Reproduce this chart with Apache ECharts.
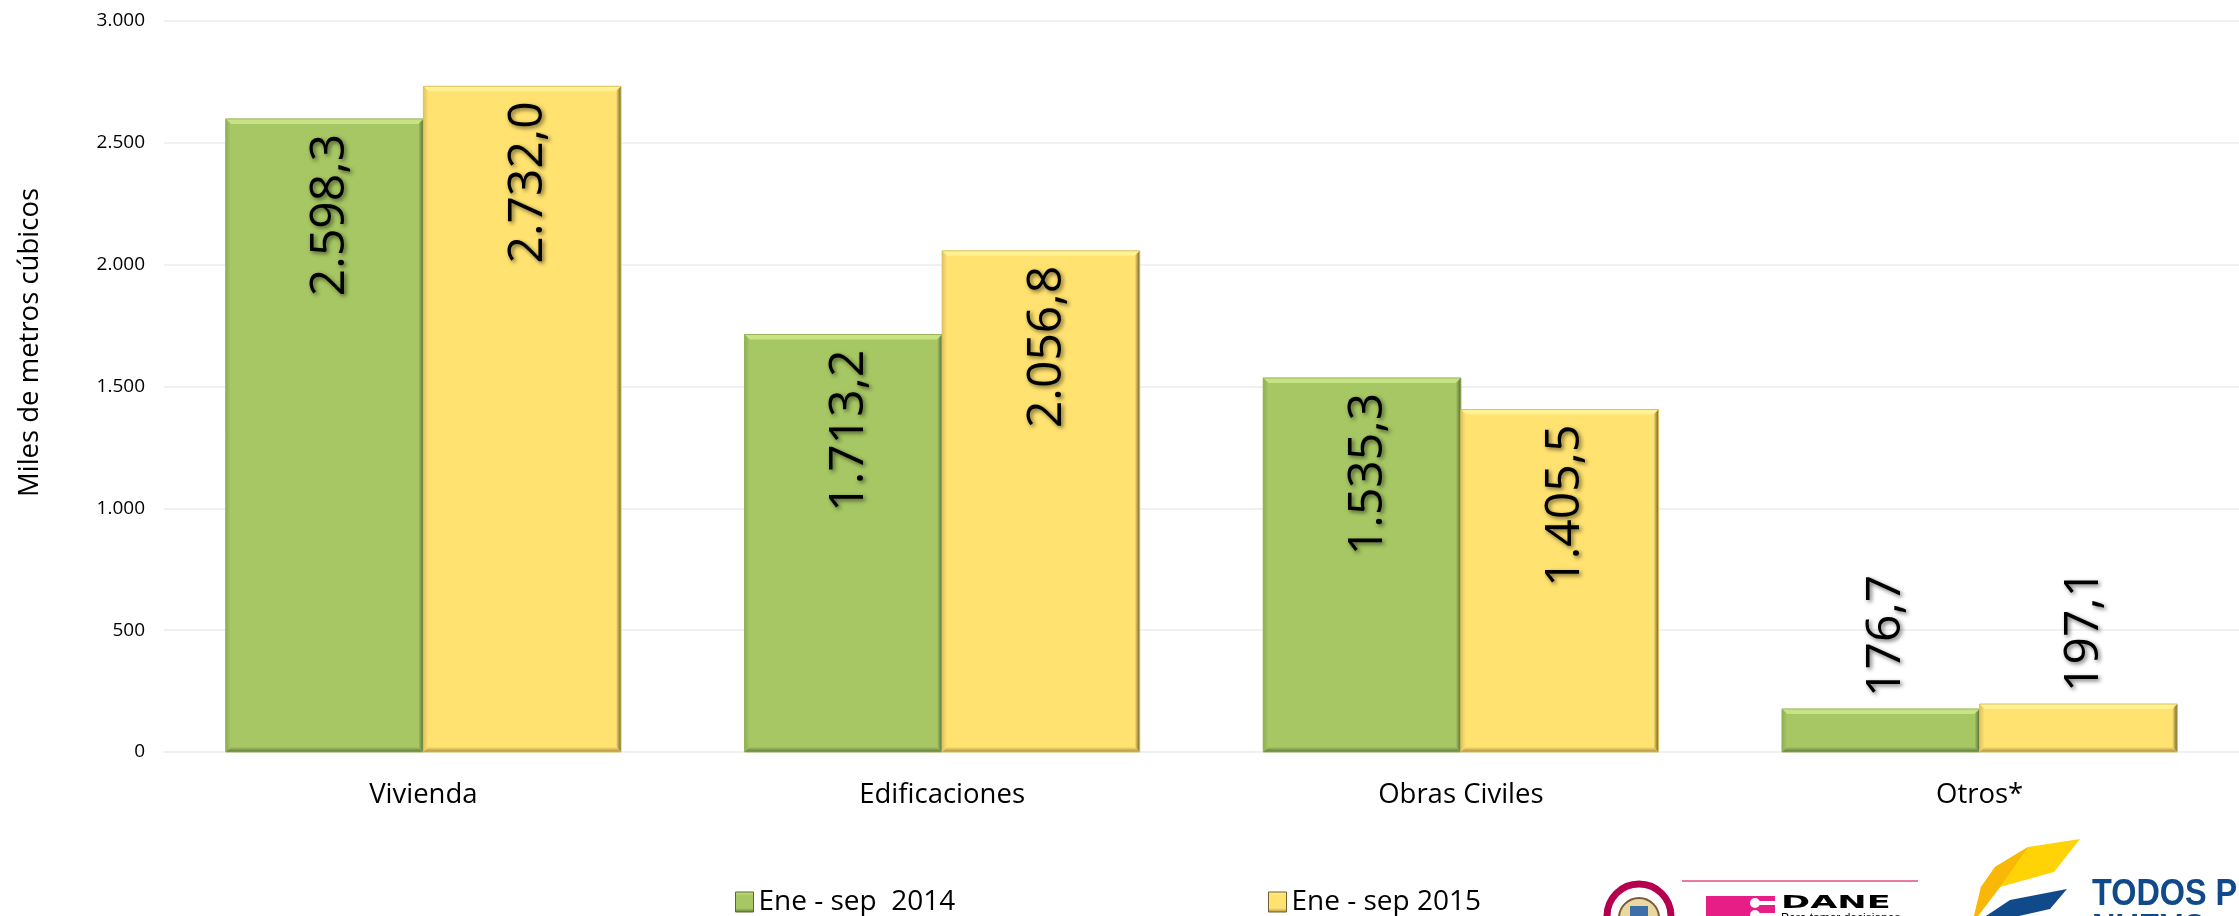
<!DOCTYPE html>
<html>
<head>
<meta charset="utf-8">
<style>html,body{margin:0;padding:0;background:#fff}#c{width:2239px;height:916px}</style>
<script src="https://cdn.jsdelivr.net/npm/echarts@6/dist/echarts.min.js"></script>
</head>
<body>
<div id="c"></div>
<script>
const categories = ['Vivienda', 'Edificaciones', 'Obras Civiles', 'Otros*'];
const name2014 = 'Ene - sep  2014';
const name2015 = 'Ene - sep 2015';
const values2014 = [2598.3, 1713.2, 1535.3, 176.7];
const values2015 = [2732.0, 2056.8, 1405.5, 197.1];
const yTicks = { min: 0, max: 3000, interval: 500 };
const axisTitle = 'Miles de metros cúbicos';

const FONT = '"Open Sans"';
const BAR_SHARE = 0.381;
const palette = [
  { fill: '#A6C763', top: '#C8E383', left: '#8EAD54', right: '#566B32', bottom: '#5F7538', border: '#94B358' },
  { fill: '#FFE26F', top: '#FFF292', left: '#E0C362', right: '#6F6030', bottom: '#A88C3E', border: '#DDC060' }
];

function fmt(n, decimals) {
  const parts = n.toFixed(decimals).split('.');
  const whole = parts[0].replace(/\B(?=(\d{3})+(?!\d))/g, '.');
  return parts[1] ? whole + ',' + parts[1] : whole;
}

function barSeries(name, values, c) {
  return {
    type: 'bar', name, barWidth: (BAR_SHARE * 100) + '%', barGap: '0%',
    itemStyle: { color: c.fill },
    data: values.map(v => {
      const tall = v > 500;
      return {
        value: v,
        label: {
          show: true, rotate: 90, fontFamily: FONT, fontSize: 48, color: '#000',
          textShadowColor: 'rgba(0,0,0,0.55)', textShadowBlur: 4,
          textShadowOffsetX: 2, textShadowOffsetY: 2,
          position: tall ? 'insideTop' : 'top',
          align: tall ? 'right' : 'left', verticalAlign: 'middle',
          distance: tall ? 15 : 12, offset: [0, 6],
          formatter: () => fmt(v, 1)
        }
      };
    })
  };
}

function edge(x, y, x2, y2, from, to) {
  return { type: 'linear', x, y, x2, y2, colorStops: [{ offset: 0, color: from }, { offset: 1, color: to }] };
}

function bevelSeries(values, c, side) {
  return {
    type: 'custom', silent: true, z: 5, legendHoverLink: false,
    encode: { x: 0, y: 1 }, tooltip: { show: false },
    data: values.map((v, i) => [i, v]),
    renderItem(params, api) {
      const topPt = api.coord([api.value(0), api.value(1)]);
      const basePt = api.coord([api.value(0), 0]);
      const w = api.size([1, 0])[0] * BAR_SHARE;
      const x0 = side === 0 ? topPt[0] - w : topPt[0];
      const x1 = x0 + w, y0 = topPt[1], y1 = basePt[1], b = 5;
      const poly = (points, fill) => ({ type: 'polygon', shape: { points }, style: { fill }, silent: true });
      return {
        type: 'group',
        children: [
          poly([[x0, y0], [x1, y0], [x1 - b, y0 + b], [x0 + b, y0 + b]], c.top),
          poly([[x0, y0], [x0 + b, y0 + b], [x0 + b, y1 - b], [x0, y1]], edge(0, 0, 1, 0, c.left, c.fill)),
          poly([[x1, y0], [x1 - b, y0 + b], [x1 - b, y1 - b], [x1, y1]], edge(0, 0, 1, 0, c.fill, c.right)),
          poly([[x0, y1], [x0 + b, y1 - b], [x1 - b, y1 - b], [x1, y1]], edge(0, 0, 0, 1, c.fill, c.bottom)),
          { type: 'rect', shape: { x: x0, y: y0, width: x1 - x0, height: y1 - y0 },
            style: { fill: 'none', stroke: c.border, lineWidth: 1 }, silent: true }
        ]
      };
    }
  };
}

function legendOf(name, left, c) {
  return {
    left, top: 888, padding: 0, icon: 'rect', itemWidth: 18, itemHeight: 20, selectedMode: false,
    textStyle: { fontFamily: FONT, fontSize: 28, color: '#000' },
    data: [{
      name,
      itemStyle: {
        color: { type: 'linear', x: 0, y: 0, x2: 0, y2: 1, colorStops: [
          { offset: 0, color: c.top }, { offset: 0.2, color: c.fill },
          { offset: 0.8, color: c.fill }, { offset: 1, color: c.bottom } ] },
        borderColor: c.right, borderWidth: 1
      }
    }]
  };
}

const logoBlue = '#114A8B';
const logos = [
  { type: 'circle', shape: { cx: 1639, cy: 916, r: 32 }, style: { fill: '#fff', stroke: '#B5004F', lineWidth: 7 } },
  { type: 'circle', shape: { cx: 1639, cy: 918, r: 20 }, style: { fill: '#E9D9A0', stroke: '#7A5A3A', lineWidth: 2 } },
  { type: 'rect', shape: { x: 1630, y: 906, width: 18, height: 10 }, style: { fill: '#3F6FA8' } },
  { type: 'line', shape: { x1: 1682, y1: 881, x2: 1918, y2: 881 }, style: { stroke: '#E8799F', lineWidth: 2 } },
  { type: 'rect', shape: { x: 1706, y: 896, width: 69, height: 20 }, style: { fill: '#E61E86' } },
  { type: 'circle', shape: { cx: 1755, cy: 903, r: 5 }, style: { fill: '#fff' } },
  { type: 'rect', shape: { x: 1755, y: 901, width: 20, height: 4 }, style: { fill: '#fff' } },
  { type: 'circle', shape: { cx: 1755, cy: 915, r: 5 }, style: { fill: '#fff' } },
  { type: 'rect', shape: { x: 1755, y: 913, width: 20, height: 3 }, style: { fill: '#fff' } },
  { type: 'text', x: 1781, y: 903, scaleX: 1.95, style: { text: 'DANE', fontFamily: '"DejaVu Sans"', fontWeight: 'bold', fontSize: 18, fill: '#000', align: 'left', verticalAlign: 'middle' } },
  { type: 'text', x: 1781, y: 919, style: { text: 'Para tomar decisiones', fontFamily: '"Liberation Sans"', fontSize: 12, fill: '#000', align: 'left', verticalAlign: 'middle' } },
  { type: 'polygon', shape: { points: [[2080, 839], [2054, 872], [2000, 887], [1978, 916], [1974, 916], [1981, 887], [1995, 867], [2028, 847]] }, style: { fill: '#FFD306' } },
  { type: 'polygon', shape: { points: [[2028, 847], [2000, 887], [1978, 916], [1974, 916], [1981, 887], [1995, 867]] }, style: { fill: '#F9B707' } },
  { type: 'polygon', shape: { points: [[2067, 889], [2050, 909], [2019, 916], [1986, 916], [2010, 900]] }, style: { fill: logoBlue } },
  { type: 'text', x: 2092, y: 895, scaleX: 0.9, style: { text: 'TODOS P', fontFamily: '"Liberation Sans"', fontWeight: 'bold', fontSize: 36, fill: logoBlue, align: 'left', verticalAlign: 'middle' } },
  { type: 'text', x: 2092, y: 930, scaleX: 0.9, style: { text: 'NUEVO', fontFamily: '"Liberation Sans"', fontWeight: 'bold', fontSize: 36, fill: logoBlue, align: 'left', verticalAlign: 'middle' } }
];

const chart = echarts.init(document.getElementById('c'), null, { renderer: 'canvas' });
chart.setOption({
  animation: false,
  backgroundColor: '#fff',
  grid: { left: 164, right: 0, top: 21, height: 731, containLabel: false, outerBoundsMode: 'none' },
  legend: [legendOf(name2014, 735, palette[0]), legendOf(name2015, 1268, palette[1])],
  xAxis: {
    type: 'category', data: categories,
    axisLine: { show: true, lineStyle: { color: '#F1F1F1', width: 2 } },
    axisTick: { show: false },
    axisLabel: { fontFamily: FONT, fontSize: 27.5, color: '#000', margin: 29 }
  },
  yAxis: {
    type: 'value', min: yTicks.min, max: yTicks.max, interval: yTicks.interval,
    name: axisTitle, nameLocation: 'middle', nameGap: 120, nameRotate: 90,
    nameTextStyle: { fontFamily: FONT, fontSize: 27.5, color: '#000', padding: [0, 0, 0, 88] },
    axisLine: { show: false }, axisTick: { show: false },
    splitLine: { show: true, lineStyle: { color: '#F1F1F1', width: 2 } },
    axisLabel: { fontFamily: FONT, fontSize: 19, color: '#000', margin: 19, formatter: v => fmt(v, 0) }
  },
  series: [
    barSeries(name2014, values2014, palette[0]),
    barSeries(name2015, values2015, palette[1]),
    bevelSeries(values2014, palette[0], 0),
    bevelSeries(values2015, palette[1], 1)
  ],
  graphic: { elements: logos }
});
</script>
</body>
</html>
